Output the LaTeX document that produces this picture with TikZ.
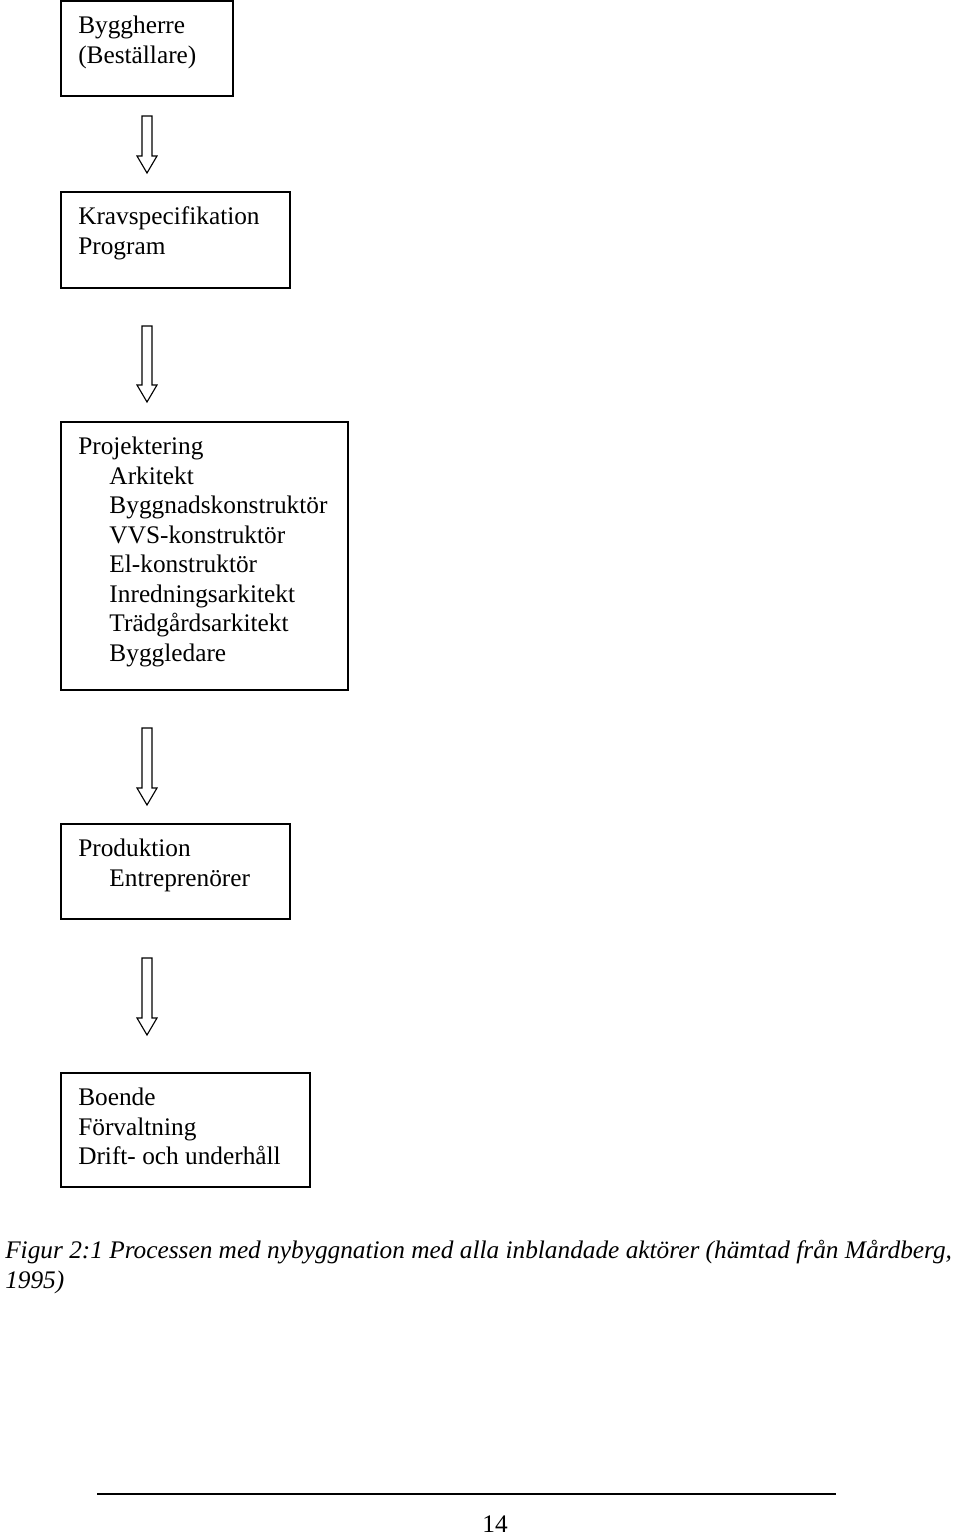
\documentclass[tikz,border=0pt]{standalone}
\usepackage{fontspec}
\setmainfont{Liberation Serif}
\usetikzlibrary{positioning,calc}

\newcommand{\ind}{\hspace*{0.78cm}}
\newcommand{\hollowarrow}[2]{%
  \draw[arrowline] ($(#1)+(-5,0)$) -- ($(#2)+(-5,-17)$) -- ($(#2)+(-10,-17)$) -- (#2)
    -- ($(#2)+(10,-17)$) -- ($(#2)+(5,-17)$) -- ($(#1)+(5,0)$) -- cycle;}

\begin{document}
\begin{tikzpicture}[x=0.025cm, y=-0.025cm,
  box/.style={rectangle, draw, line width=1.3pt, inner sep=0pt, outer sep=0pt, anchor=north west},
  boxtext/.style={inner sep=0pt, align=left, font=\fontsize{18pt}{21pt}\selectfont},
  arrowline/.style={draw, line width=0.8pt, line join=miter}]
\useasboundingbox (0,0) rectangle (960,1536);

\node[box, minimum width=4.3cm, minimum height=2.375cm] (byggherre) at (61,1) {};
\node[box, minimum width=5.725cm, minimum height=2.4cm] (krav) at (61,192) {};
\node[box, minimum width=7.175cm, minimum height=6.7cm] (projekt) at (61,422) {};
\node[box, minimum width=5.725cm, minimum height=2.375cm] (produktion) at (61,824) {};
\node[box, minimum width=6.225cm, minimum height=2.85cm] (boende) at (61,1073) {};

\node[boxtext, below right=0.37cm and 0.425cm of byggherre.north west] (byggherretxt) {Byggherre\\(Beställare)};
\node[boxtext, below right=0.37cm and 0.425cm of krav.north west] (kravtxt) {Kravspecifikation\\Program};
\node[boxtext, below right=0.37cm and 0.425cm of projekt.north west] (projekttxt) {Projektering\\
  \ind Arkitekt\\
  \ind Byggnadskonstruktör\\
  \ind VVS-konstruktör\\
  \ind El-konstruktör\\
  \ind Inredningsarkitekt\\
  \ind Trädgårdsarkitekt\\
  \ind Byggledare};
\node[boxtext, below right=0.37cm and 0.425cm of produktion.north west] (produktiontxt) {Produktion\\\ind Entreprenörer};
\node[boxtext, below right=0.37cm and 0.425cm of boende.north west] (boendetxt) {Boende\\Förvaltning\\Drift- och underhåll};

\coordinate (a1top) at (147,116);
\coordinate (a1tip) at (147,173);
\coordinate (a2top) at (147,326);
\coordinate (a2tip) at (147,402);
\coordinate (a3top) at (147,728);
\coordinate (a3tip) at (147,805);
\coordinate (a4top) at (147,958);
\coordinate (a4tip) at (147,1035);
\hollowarrow{a1top}{a1tip}
\hollowarrow{a2top}{a2tip}
\hollowarrow{a3top}{a3tip}
\hollowarrow{a4top}{a4tip}

\node[boxtext, anchor=base west, font=\fontsize{18pt}{21pt}\selectfont\itshape] (caption) at (5,1288)
  {Figur 2:1 Processen med nybyggnation med alla inblandade aktörer (hämtad från Mårdberg,\\1995)};

\coordinate (rulel) at (97,1494);
\coordinate (ruler) at (836,1494);
\draw[line width=0.8pt] (rulel) -- (ruler);
\node[boxtext, anchor=base] (pagenum) at (495,1532) {14};
\end{tikzpicture}
\end{document}
